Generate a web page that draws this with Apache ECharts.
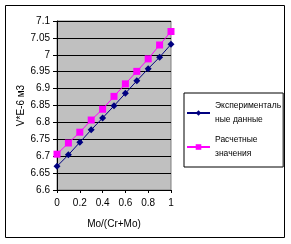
<!DOCTYPE html>
<html>
<head>
<meta charset="utf-8">
<script src="https://cdn.jsdelivr.net/npm/echarts@6/dist/echarts.min.js"></script>
<style>
html, body { margin: 0; padding: 0; background: #fff; }
#chart { width: 291px; height: 244px; }
</style>
</head>
<body>
<div id="chart"></div>
<script>
// доля Mo
const xValues = [0, 0.1, 0.2, 0.3, 0.4, 0.5, 0.6, 0.7, 0.8, 0.9, 1];
// экспериментальные данные
const expValues = [6.670, 6.704, 6.741, 6.778, 6.813, 6.849, 6.886, 6.923, 6.959, 6.993, 7.031];
// расчетные значения
const calcValues = [6.706, 6.739, 6.771, 6.807, 6.839, 6.877, 6.914, 6.951, 6.988, 7.029, 7.069];

const toPairs = vals => xValues.map((x, i) => [x, vals[i]]);

const font = 'Liberation Sans, Arial, sans-serif';
const myChart = echarts.init(document.getElementById('chart'));

myChart.setOption({
    animation: false,
    graphic: [{
        type: 'rect',
        shape: {x: 5.5, y: 5.5, width: 279, height: 232},
        style: {fill: 'none', stroke: '#000', lineWidth: 1},
        z: -1,
    }],
    grid: {
        left: 57,
        right: 120,
        top: 21,
        bottom: 54,
        show: true,
        backgroundColor: '#c0c0c0',
        borderColor: '#808080',
        borderWidth: 1,
    },
    legend: {
        orient: 'vertical',
        left: 184,
        top: 93,
        padding: [6, 2, 6, 2],
        borderColor: '#000',
        borderWidth: 1,
        itemWidth: 23,
        itemHeight: 7,
        itemGap: 6,
        textStyle: {fontFamily: font, fontSize: 8.5, color: '#000', lineHeight: 14},
        data: ['Эксперименталь\nные данные', 'Расчетные\nзначения'],
    },
    xAxis: {
        type: 'value',
        min: 0,
        max: 1,
        interval: 0.2,
        name: 'Mo/(Cr+Mo)',
        nameLocation: 'middle',
        nameGap: 29,
        nameTextStyle: {fontFamily: font, fontSize: 10, color: '#000'},
        axisLine: {lineStyle: {color: '#000', width: 1}},
        axisTick: {show: true, length: 3, lineStyle: {color: '#000'}},
        axisLabel: {fontFamily: font, fontSize: 10, color: '#000', margin: 8},
        splitLine: {show: false},
    },
    yAxis: {
        type: 'value',
        min: 6.6,
        max: 7.1,
        interval: 0.05,
        name: 'V*E-6 м3',
        nameLocation: 'middle',
        nameRotate: 90,
        nameGap: 31,
        nameTextStyle: {fontFamily: font, fontSize: 10, color: '#000'},
        axisLine: {show: true, lineStyle: {color: '#000', width: 1}},
        axisTick: {show: true, length: 4, lineStyle: {color: '#000'}},
        axisLabel: {fontFamily: font, fontSize: 10, color: '#000', margin: 7},
        splitLine: {show: true, lineStyle: {color: '#000', width: 1}},
    },
    series: [
        {
            name: 'Эксперименталь\nные данные',
            type: 'line',
            data: toPairs(expValues),
            symbol: 'diamond',
            symbolSize: 7,
            color: '#000080',
            lineStyle: {width: 1, color: '#000080'},
            itemStyle: {color: '#000080'},
        },
        {
            name: 'Расчетные\nзначения',
            type: 'line',
            data: toPairs(calcValues),
            symbol: 'rect',
            symbolSize: 7,
            color: '#ff00ff',
            lineStyle: {width: 1, color: '#ff00ff'},
            itemStyle: {color: '#ff00ff'},
        },
    ],
});
</script>
</body>
</html>
